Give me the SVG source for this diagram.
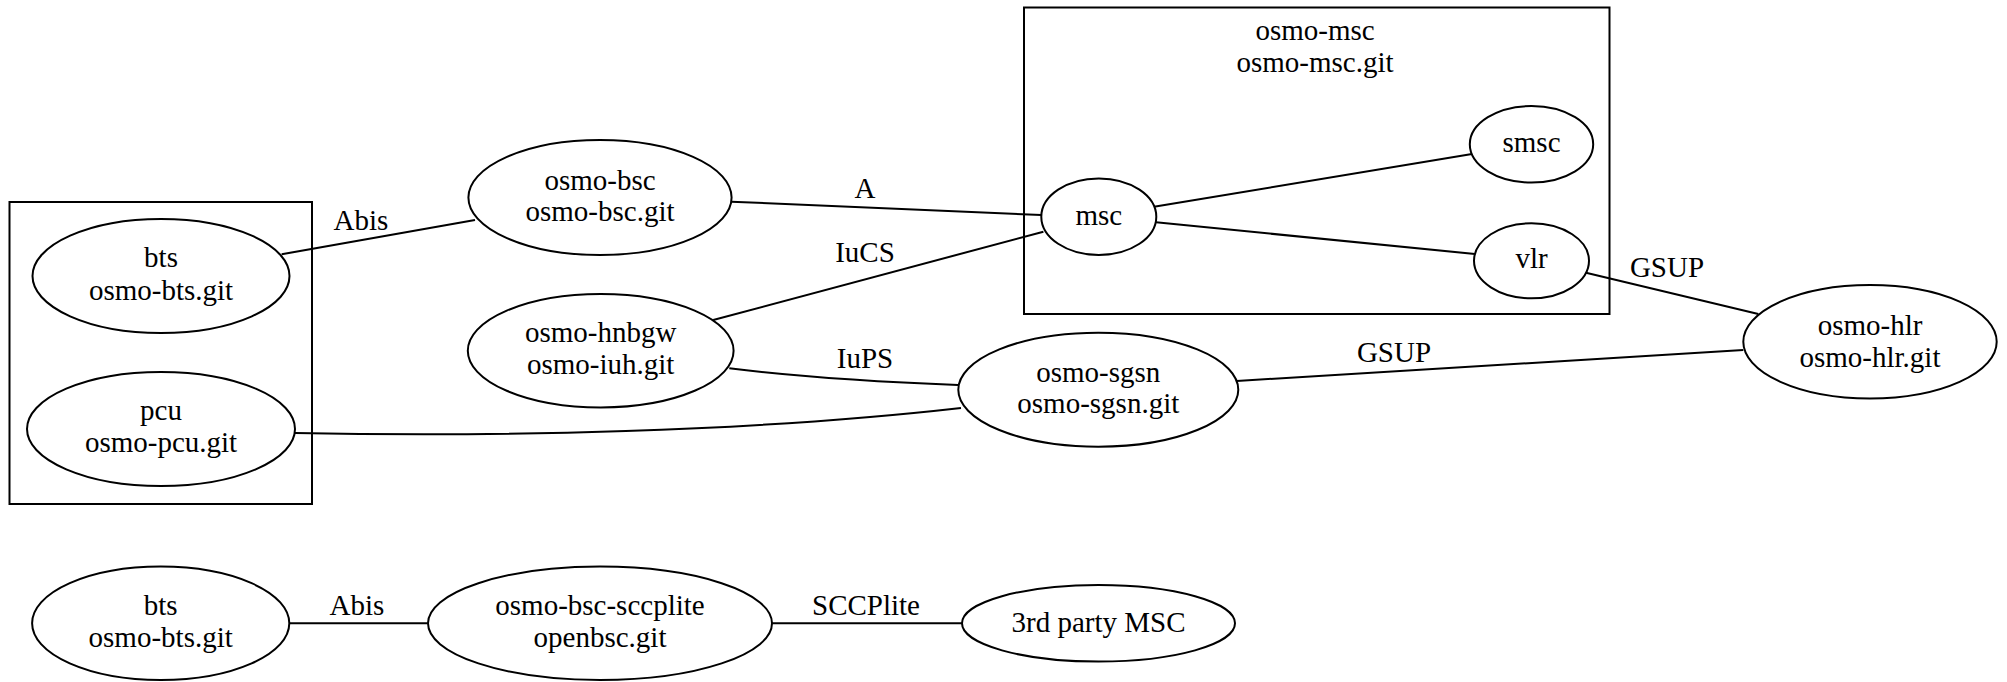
<svg xmlns="http://www.w3.org/2000/svg" width="2007" height="682" viewBox="0 0 2007 682">
<style>
  .n { fill: none; stroke: #000; stroke-width: 2; }
  .c { fill: none; stroke: #000; stroke-width: 2; }
  .e { fill: none; stroke: #000; stroke-width: 2; }
  text { font-family: "Liberation Serif", "Times New Roman", serif; font-size: 29px; fill: #000; text-anchor: middle; }
</style>
<rect width="2007" height="682" fill="#fff"/>
<g id="cluster_bts">
  <rect class="c" x="9.5" y="202" width="302.5" height="302"/>
</g>
<g id="cluster_msc">
  <rect class="c" x="1024" y="7.5" width="585.5" height="306.5"/>
  <text x="1315" y="40">osmo-msc</text>
  <text x="1315" y="72">osmo-msc.git</text>
</g>
<g id="connectors">
  <path class="e" d="M281.7,254.3 L475,220"/>
  <path class="e" d="M731,201.7 L1041.3,215"/>
  <path class="e" d="M713.2,320 L1043.4,231.7"/>
  <path class="e" d="M729.3,368.3 C800,377 880,382 958,385"/>
  <path class="e" d="M295,433 C500,437 750,432 961,408"/>
  <path class="e" d="M1154,206.7 L1472,154"/>
  <path class="e" d="M1156,222.3 L1475,254"/>
  <path class="e" d="M1586,272.7 L1758.3,314"/>
  <path class="e" d="M1236.7,381 L1743.3,350"/>
  <path class="e" d="M289.3,623.3 L427.7,623.3"/>
  <path class="e" d="M772,623.3 L962,623.3"/>
  <text x="361" y="230">Abis</text>
  <text x="865" y="198">A</text>
  <text x="865" y="262">IuCS</text>
  <text x="865" y="368">IuPS</text>
  <text x="1667" y="277">GSUP</text>
  <text x="1394" y="362">GSUP</text>
  <text x="357" y="615">Abis</text>
  <text x="866" y="615">SCCPlite</text>
</g>
<g id="bts">
  <ellipse class="n" cx="161" cy="276" rx="128.5" ry="57"/>
  <text x="161" y="267">bts</text>
  <text x="161" y="299.5">osmo-bts.git</text>
</g>
<g id="pcu">
  <ellipse class="n" cx="161" cy="429" rx="134" ry="57"/>
  <text x="161" y="420">pcu</text>
  <text x="161" y="452">osmo-pcu.git</text>
</g>
<g id="osmo-bsc">
  <ellipse class="n" cx="600" cy="197.5" rx="131.6" ry="57.5"/>
  <text x="600" y="190">osmo-bsc</text>
  <text x="600" y="221">osmo-bsc.git</text>
</g>
<g id="osmo-hnbgw">
  <ellipse class="n" cx="600.7" cy="350.7" rx="132.9" ry="56.7"/>
  <text x="600.7" y="342">osmo-hnbgw</text>
  <text x="600.7" y="373.5">osmo-iuh.git</text>
</g>
<g id="msc">
  <ellipse class="n" cx="1098.8" cy="216.7" rx="57.5" ry="38.3"/>
  <text x="1098.8" y="225">msc</text>
</g>
<g id="smsc">
  <ellipse class="n" cx="1531.5" cy="144.3" rx="61.7" ry="38.3"/>
  <text x="1531.5" y="152">smsc</text>
</g>
<g id="vlr">
  <ellipse class="n" cx="1531.5" cy="260.8" rx="57.5" ry="37.5"/>
  <text x="1531.5" y="268">vlr</text>
</g>
<g id="osmo-sgsn">
  <ellipse class="n" cx="1098.3" cy="389.7" rx="140" ry="57"/>
  <text x="1098.3" y="381.7">osmo-sgsn</text>
  <text x="1098.3" y="413">osmo-sgsn.git</text>
</g>
<g id="osmo-hlr">
  <ellipse class="n" cx="1870" cy="341.7" rx="126.7" ry="56.7"/>
  <text x="1870" y="335">osmo-hlr</text>
  <text x="1870" y="366.7">osmo-hlr.git</text>
</g>
<g id="bts2">
  <ellipse class="n" cx="160.7" cy="623.3" rx="128.6" ry="56.7"/>
  <text x="160.7" y="615">bts</text>
  <text x="160.7" y="647">osmo-bts.git</text>
</g>
<g id="osmo-bsc-sccplite">
  <ellipse class="n" cx="600" cy="623.3" rx="172" ry="56.7"/>
  <text x="600" y="615">osmo-bsc-sccplite</text>
  <text x="600" y="647">openbsc.git</text>
</g>
<g id="third-party-msc">
  <ellipse class="n" cx="1098.5" cy="623.3" rx="136.5" ry="38.3"/>
  <text x="1098.5" y="632">3rd party MSC</text>
</g>
</svg>
